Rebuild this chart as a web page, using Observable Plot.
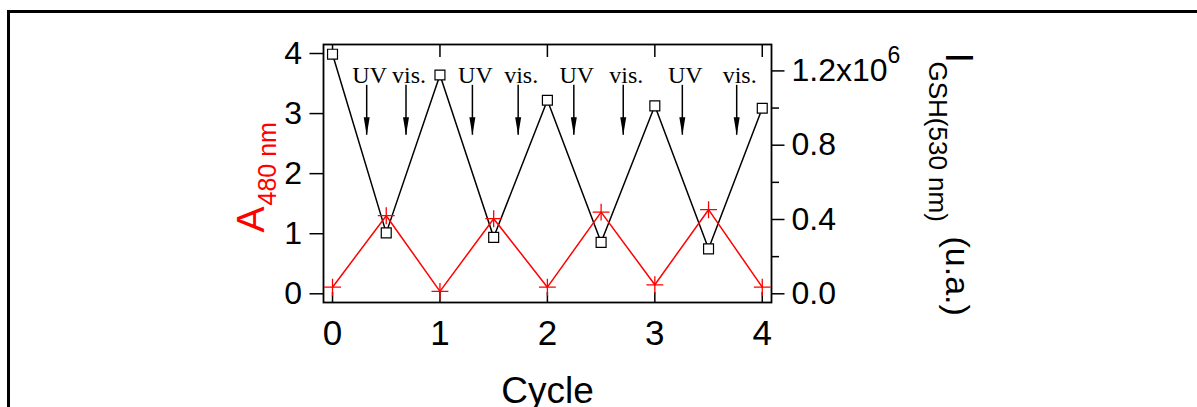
<!DOCTYPE html>
<html>
<head>
<meta charset="utf-8">
<script src="https://cdn.jsdelivr.net/npm/d3@7"></script>
<script src="https://cdn.jsdelivr.net/npm/@observablehq/plot@0.6"></script>
<style>
html, body { margin: 0; padding: 0; background: #fff; overflow: hidden; width: 1197px; height: 407px; }
#wrap { position: relative; width: 1197px; height: 407px; overflow: hidden; }
#chart { position: absolute; left: 0; top: 0; }
#border { position: absolute; left: 7px; top: 10px; width: 1400px; height: 700px; border: 3.5px solid #000; box-sizing: border-box; pointer-events: none; }
</style>
</head>
<body>
<div id="wrap"><div id="chart"></div><div id="border"></div></div>
<script>
// ---- data ----
const cycles = [0, 0.5, 1, 1.5, 2, 2.5, 3, 3.5, 4];
const absorbance480 = [0.11, 1.30, 0.04, 1.25, 0.11, 1.36, 0.15, 1.40, 0.11];
const intensityGSH = [1.29e6, 0.328e6, 1.178e6, 0.304e6, 1.042e6, 0.277e6, 1.012e6, 0.242e6, 0.999e6];

const irradiationCycle = [0.318, 0.684, 1.302, 1.728, 2.246, 2.706, 3.256, 3.762];
const irradiationLabel = ["UV", "vis.", "UV", "vis.", "UV", "vis.", "UV", "vis."];
const arrowFrom = 3.47;   // left-axis units
const arrowTo = 2.64;
const arrowLabelAt = 3.63;

const xTickValues = [0, 1, 2, 3, 4];
const xTickLabels = ["0", "1", "2", "3", "4"];
const leftTickValues = [0, 1, 2, 3, 4];
const leftTickLabels = ["0", "1", "2", "3", "4"];
const rightTickValues = [0, 0.4e6, 0.8e6, 1.2e6];
const rightTickLabels = ["0.0", "0.4", "0.8", "1.2x10"];
const rightMinorTickValues = [0.2e6, 0.6e6, 1.0e6];
const rightExponent = ["6"];

// right axis (intensity) expressed in left-axis (absorbance) units
const intensityPerAbsUnit = 1e6 / 3.092;
const toLeft = v => v / intensityPerAbsUnit;

const rows = cycles.map((c, i) => ({cycle: c, a: absorbance480[i], iLeft: toLeft(intensityGSH[i])}));

const W = 1197, H = 407;
const mL = 323, mR = 426, mT = 44, mB = 105;
const frameH = H - mT - mB;

const sans = "'Liberation Sans', Arial, Helvetica, sans-serif";
const serif = "'Liberation Serif', 'Times New Roman', serif";

const arrowHead = {
  draw(ctx) { ctx.moveTo(-3, -18); ctx.lineTo(3, -18); ctx.lineTo(0, 0); ctx.closePath(); }
};

const fmtBy = (values, labels, conv = d => d) => d => {
  const i = values.findIndex(v => Math.abs(conv(v) - d) < 1e-9);
  return i >= 0 ? labels[i] : "";
};

const plot = Plot.plot({
  width: W, height: H,
  marginLeft: mL, marginRight: mR, marginTop: mT, marginBottom: mB,
  style: {background: "transparent", color: "black", fontFamily: sans, overflow: "visible"},
  x: {domain: [-0.084, 4.086]},
  y: {domain: [-0.145, 4.15]},
  marks: [
    Plot.frame({stroke: "black", strokeWidth: 1.8}),
    // inside ticks top and bottom
    Plot.tickX(xTickValues, {x: d => d, insetBottom: frameH - 13, strokeWidth: 1.5}),
    Plot.tickX(xTickValues, {x: d => d, insetTop: frameH - 10, strokeWidth: 1.5}),
    // axes
    Plot.axisX(xTickValues, {anchor: "bottom", tickSize: 0, tickPadding: 18, fontSize: 35, fontFamily: sans,
      tickFormat: fmtBy(xTickValues, xTickLabels), label: null}),
    Plot.axisY(leftTickValues, {anchor: "left", tickSize: 13.5, tickPadding: 8, fontSize: 32, fontFamily: sans,
      strokeWidth: 1.5, tickFormat: fmtBy(leftTickValues, leftTickLabels), label: null}),
    Plot.axisY(rightTickValues.map(toLeft), {anchor: "right", tickSize: 12.5, tickPadding: 7.5, fontSize: 32, fontFamily: sans,
      strokeWidth: 1.5, tickFormat: fmtBy(rightTickValues, rightTickLabels, toLeft), label: null}),
    Plot.axisY(rightMinorTickValues.map(toLeft), {anchor: "right", tickSize: 7, strokeWidth: 1.5,
      tickFormat: () => "", label: null}),
    Plot.text(rightExponent, {text: d => d, y: () => toLeft(rightTickValues[3]), frameAnchor: "right",
      dx: 116, dy: -8, textAnchor: "start", lineAnchor: "bottom", fontSize: 23, fontFamily: sans}),
    // series
    Plot.line(rows, {x: "cycle", y: "iLeft", stroke: "black", strokeWidth: 1.5}),
    Plot.line(rows, {x: "cycle", y: "a", stroke: "#ff0000", strokeWidth: 1.5}),
    Plot.dot(rows, {x: "cycle", y: "a", symbol: "plus", r: 5.5, stroke: "#ff0000", strokeWidth: 1.3}),
    Plot.dot(rows, {x: "cycle", y: "iLeft", symbol: "square", r: 5.6, stroke: "black", fill: "white", strokeWidth: 1.2}),
    // irradiation annotations
    Plot.ruleX(irradiationCycle, {x: d => d, y1: arrowFrom, y2: arrowTo, stroke: "black", strokeWidth: 1.5}),
    Plot.dot(irradiationCycle, {x: d => d, y: arrowTo, symbol: arrowHead, r: 1, fill: "black", stroke: "none"}),
    Plot.text(irradiationCycle, {x: d => d, y: arrowLabelAt, text: (d, i) => irradiationLabel[i], dx: 3,
      fontFamily: serif, fontSize: 24, textAnchor: "middle", lineAnchor: "middle"}),
    // axis titles
    Plot.text(["Cycle"], {text: d => d, frameAnchor: "bottom", dy: 74, lineAnchor: "top", fontSize: 37, fontFamily: sans}),
    Plot.text(["A"], {text: d => d, frameAnchor: "bottom-left", rotate: -90, textAnchor: "start", lineAnchor: "bottom",
      dx: -60, dy: -70, fontSize: 39, fill: "#ff0000", fontFamily: sans}),
    Plot.text(["480 nm"], {text: d => d, frameAnchor: "bottom-left", rotate: -90, textAnchor: "start", lineAnchor: "bottom",
      dx: -48, dy: -97, fontSize: 25, letterSpacing: 1.5, fill: "#ff0000", fontFamily: sans}),
    Plot.text(["I"], {text: d => d, frameAnchor: "top-right", rotate: 90, textAnchor: "start", lineAnchor: "bottom",
      dx: 174, dy: 8, fontSize: 38, fontFamily: sans}),
    Plot.text(["GSH(530 nm)"], {text: d => d, frameAnchor: "top-right", rotate: 90, textAnchor: "start", lineAnchor: "bottom",
      dx: 157, dy: 17, fontSize: 26, letterSpacing: 1.5, fontFamily: sans}),
    Plot.text(["(u.a.)"], {text: d => d, frameAnchor: "top-right", rotate: 90, textAnchor: "start", lineAnchor: "bottom",
      dx: 174, dy: 192, fontSize: 34, fontFamily: sans})
  ]
});
document.getElementById("chart").appendChild(plot);
</script>
</body>
</html>
